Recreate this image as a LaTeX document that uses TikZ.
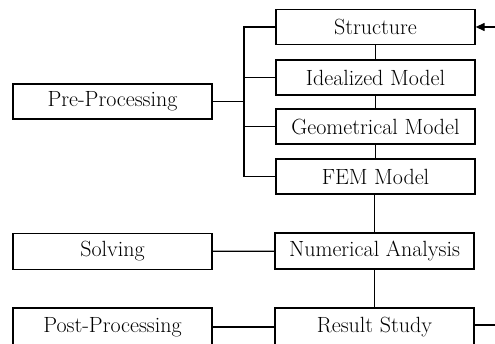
\documentclass[tikz,border=0pt]{standalone}
\usetikzlibrary{arrows.meta}
\begin{document}
\begin{tikzpicture}[x=1pt,y=-1pt,
  box/.style={draw,line width=1.3pt,minimum width=199pt,minimum height=35pt,inner sep=0pt,font=\fontsize{22}{26}\selectfont},
  conn/.style={line width=1.3pt}]
\useasboundingbox (0,0) rectangle (495,344);
\clip (0,0) rectangle (495,344);
\node[box] (st) at (375.5,27) {Structure};
\node[box] (id) at (375.5,77.5) {Idealized Model};
\node[box] (ge) at (375.5,126.5) {Geometrical Model};
\node[box] (fe) at (375.5,176.5) {FEM Model};
\node[box] (pre) at (112.5,101.5) {Pre-Processing};
\node[box,minimum height=36pt] (na) at (374.5,251) {Numerical Analysis};
\node[box,minimum height=36pt] (so) at (112.5,251.5) {Solving};
\node[box,minimum height=38pt] (rs) at (374.5,327) {Result Study};
\node[box,minimum height=38pt] (po) at (112.5,327) {Post-Processing};
\coordinate (sp) at (244,101.5);
\coordinate (inR) at (495,27);
\coordinate (outR) at (495,325);
\draw[conn] (pre.east) -- (sp);
\draw[conn] (st.west) -| (sp) |- (fe.west);
\draw[conn] (id.west) -- (id.west -| sp);
\draw[conn] (ge.west) -- (ge.west -| sp);
\draw[conn] (st) -- (id);
\draw[conn] (id) -- (ge);
\draw[conn] (ge) -- (fe);
\draw[conn] (fe.south -| na.north) -- (na.north);
\draw[conn] (na) -- (rs);
\draw[conn] (so) -- (na);
\draw[conn] (po.east |- rs.west) -- (rs.west);
\draw[conn,-{Triangle[length=9pt,width=8pt]}] (inR) -- (st.east);
\draw[conn] (rs.east |- outR) -- (outR);
\end{tikzpicture}
\end{document}
